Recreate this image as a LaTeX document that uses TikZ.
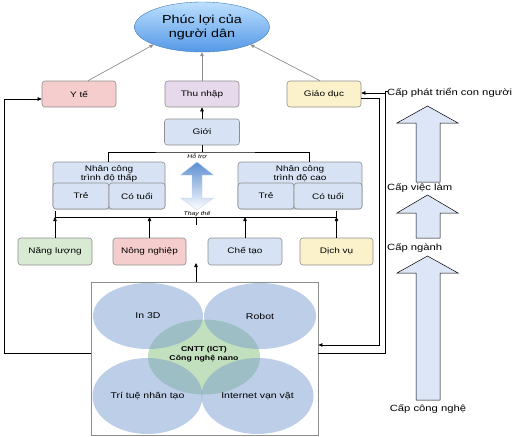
\documentclass[tikz,border=0pt]{standalone}
\usepackage{fontspec}
\setmainfont{Liberation Sans}[FakeStretch=1.25]
\usetikzlibrary{arrows.meta,shapes.geometric,calc}
\definecolor{cpink}{HTML}{F6CDCD}
\definecolor{clav}{HTML}{E5D9EB}
\definecolor{cyel}{HTML}{FBF2CB}
\definecolor{cblue}{HTML}{D7E3F4}
\definecolor{cgrn}{HTML}{D8EAD2}
\definecolor{cborder}{HTML}{8E8E8E}
\definecolor{cgray}{HTML}{8A8A8A}
\definecolor{clevel}{HTML}{DCE6F6}
\definecolor{cstar}{HTML}{C3E0BE}
\definecolor{couter}{HTML}{6E96CD}
\definecolor{ctop}{HTML}{BDE0FF}
\definecolor{cbot}{HTML}{5498E6}
\definecolor{cdbl}{HTML}{5B8ED2}
\begin{document}
\begin{tikzpicture}[x=1pt,y=-1pt,
  box/.style={draw=cborder,line width=0.6pt,rounded corners=3pt,minimum height=26pt,
    inner sep=1pt,font=\fontsize{8}{9.5}\selectfont,align=center},
  arr/.style={-{Triangle[length=4pt,width=3.5pt]},line width=0.6pt,draw=black},
  garr/.style={-{Triangle[length=4pt,width=3.5pt]},line width=0.6pt,draw=cgray,fill=cgray},
  lvl/.style={draw=black,line width=0.5pt,fill=clevel},
  lbl/.style={font=\fontsize{9}{10}\selectfont,inner sep=0pt},
  tlbl/.style={font=\fontsize{8.4}{10}\selectfont,inner sep=0pt},
  sml/.style={font=\fontsize{5.5}{6}\selectfont\itshape,inner sep=0pt},
  oell/.style={ellipse,fill=couter,fill opacity=0.45,text opacity=1,inner sep=0pt}]
\useasboundingbox (0,0) rectangle (521,436);

% goal ellipse
\node[ellipse,minimum width=135pt,minimum height=50pt,top color=ctop,bottom color=cbot,
  draw=cbot!80!black,line width=0.4pt,align=center,font=\fontsize{11.5}{14}\selectfont,inner sep=0pt]
  (goal) at (202,27) {Phúc lợi của\\người dân};

% top row
\node[box,fill=cpink,minimum width=74pt] (yte) at (79,94) {Y tế};
\node[box,fill=clav,minimum width=74pt] (thu) at (202,94) {Thu nhập};
\node[box,fill=cyel,minimum width=74pt] (gd) at (324,94) {Giáo dục};
\node[box,fill=cblue,minimum width=75pt] (gioi) at (202,132) {Giới};

\draw[garr] ([xshift=9pt]yte.north) -- (goal.200);
\draw[garr] (thu.north) -- (goal.south);
\draw[garr] ([xshift=-4pt]gd.north) -- (goal.340);
\draw[arr] (gioi.north) -- (thu.south);

% labour groups
\node[box,fill=cblue,minimum width=112pt,minimum height=47pt] (low) at (109,185.5) {};
\node[box,fill=cblue,minimum width=56pt] (lowy) at (81,196) {Trẻ};
\node[box,fill=cblue,minimum width=56pt] (lowo) at (137,196) {Có tuổi};
\node[box,draw=none,fill=none,minimum height=0pt,font=\fontsize{8}{9}\selectfont] (lowt) at (109,173.5) {Nhân công\\trình độ thấp};

\node[box,fill=cblue,minimum width=124pt,minimum height=47pt] (high) at (300,185.5) {};
\node[box,fill=cblue,minimum width=56pt] (highy) at (266,196) {Trẻ};
\node[box,fill=cblue,minimum width=68pt] (higho) at (328,196) {Có tuổi};
\node[box,draw=none,fill=none,minimum height=0pt,font=\fontsize{8}{9}\selectfont] (hight) at (300,173.5) {Nhân công\\trình độ cao};

\coordinate (split) at (202,152);
\draw[line width=0.6pt] (gioi.south) -- (split);
\draw[line width=0.6pt] ([xshift=-1pt]low.north) |- (split) -| ([xshift=9pt]high.north);

% double arrow
\path[top color=cdbl,bottom color=white,draw=cdbl!40,line width=0.3pt]
  (192,175) -- (180.5,175) -- (197,162) -- (213.5,175) -- (202,175) -- (202,198)
  -- (213.5,198) -- (197,210) -- (180.5,198) -- (192,198) -- cycle;
\node[sml] (hotro) at (197,157) {Hỗ trợ};
\node[sml] (thay) at (197,214) {Thay thế};

% bracket
\coordinate (brkL) at (55,217);
\coordinate (brkR) at (336,217);
\coordinate (brk) at (196,217);
\draw[line width=0.6pt] ($(brkL)+(0,-6)$) -- (brkL) -- (brkR) -- ($(brkR)+(0,-6)$);
\draw[line width=0.6pt] (brk) -- ++(0,8);

% industries
\node[box,fill=cgrn,minimum width=74pt,minimum height=27pt] (nl) at (55,251.5) {Năng lượng};
\node[box,fill=cpink,minimum width=73pt,minimum height=27pt] (nn) at (149.5,251.5) {Nông nghiệp};
\node[box,fill=cblue,minimum width=74pt,minimum height=27pt] (ct) at (245,251.5) {Chế tạo};
\node[box,fill=cyel,minimum width=73pt,minimum height=27pt] (dv) at (336.5,251.5) {Dịch vụ};
\draw[arr] (nl.north) -- (nl.north |- brk);
\draw[arr] (nn.north) -- (nn.north |- brk);
\draw[arr] (ct.north) -- (ct.north |- brk);
\draw[arr] (dv.north) -- (dv.north |- brk);

% technology box
\node[draw=cborder,line width=0.8pt,fill=white,minimum width=227pt,minimum height=153pt,inner sep=0pt]
  (tech) at (204.5,358.5) {};
\fill[cstar] (204,357) ellipse [x radius=56pt,y radius=37.5pt];
\node[oell,minimum width=110pt,minimum height=66pt,tlbl] (i3d) at (148,316) {In 3D};
\node[oell,minimum width=112pt,minimum height=66pt,tlbl] (rob) at (260,316) {Robot};
\node[oell,minimum width=110pt,minimum height=76pt,tlbl] (ai) at (147.5,396) {Trí tuệ nhân tạo};
\node[oell,minimum width=112pt,minimum height=76pt,tlbl] (iot) at (257.5,396) {Internet vạn vật};
\node[align=center,font=\fontsize{7}{8.5}\selectfont\bfseries,inner sep=0pt] (ict) at (204,354)
  {CNTT (ICT)\\Công nghệ nano};

\coordinate (techtip) at (196,263);
\draw[arr] (tech.north -| techtip) -- (techtip);

% feedback lines
\draw[arr] (tech.west |- 0,353) -- (4,353) |- (yte.west |- 0,99);
\draw[line width=0.6pt] (tech.east |- 0,353) -- (385,353) -- (385,91) -- (388,91);
\draw[arr] (385,93) -- (gd.east |- 0,93);
\draw[arr] (gd.east |- 0,98) -- (379,98) |- (tech.east |- 0,345);

% level arrows
\path[lvl] (416,182) -- (416,123) -- (397,123) -- (427.5,106) -- (458,123) -- (440,123) -- (440,182) -- cycle;
\path[lvl] (416,238) -- (416,213) -- (397,213) -- (427.5,195) -- (458,213) -- (440,213) -- (440,238) -- cycle;
\path[lvl] (416,400) -- (416,273) -- (397,273) -- (427.5,256) -- (458,273) -- (440,273) -- (440,400) -- cycle;
\node[lbl,anchor=west] (l1) at (387,93) {Cấp phát triển con người};
\node[lbl,anchor=west] (l2) at (387,188) {Cấp việc làm};
\node[lbl,anchor=west] (l3) at (387,248) {Cấp ngành};
\node[lbl] (l4) at (428,409) {Cấp công nghệ};
\end{tikzpicture}
\end{document}
